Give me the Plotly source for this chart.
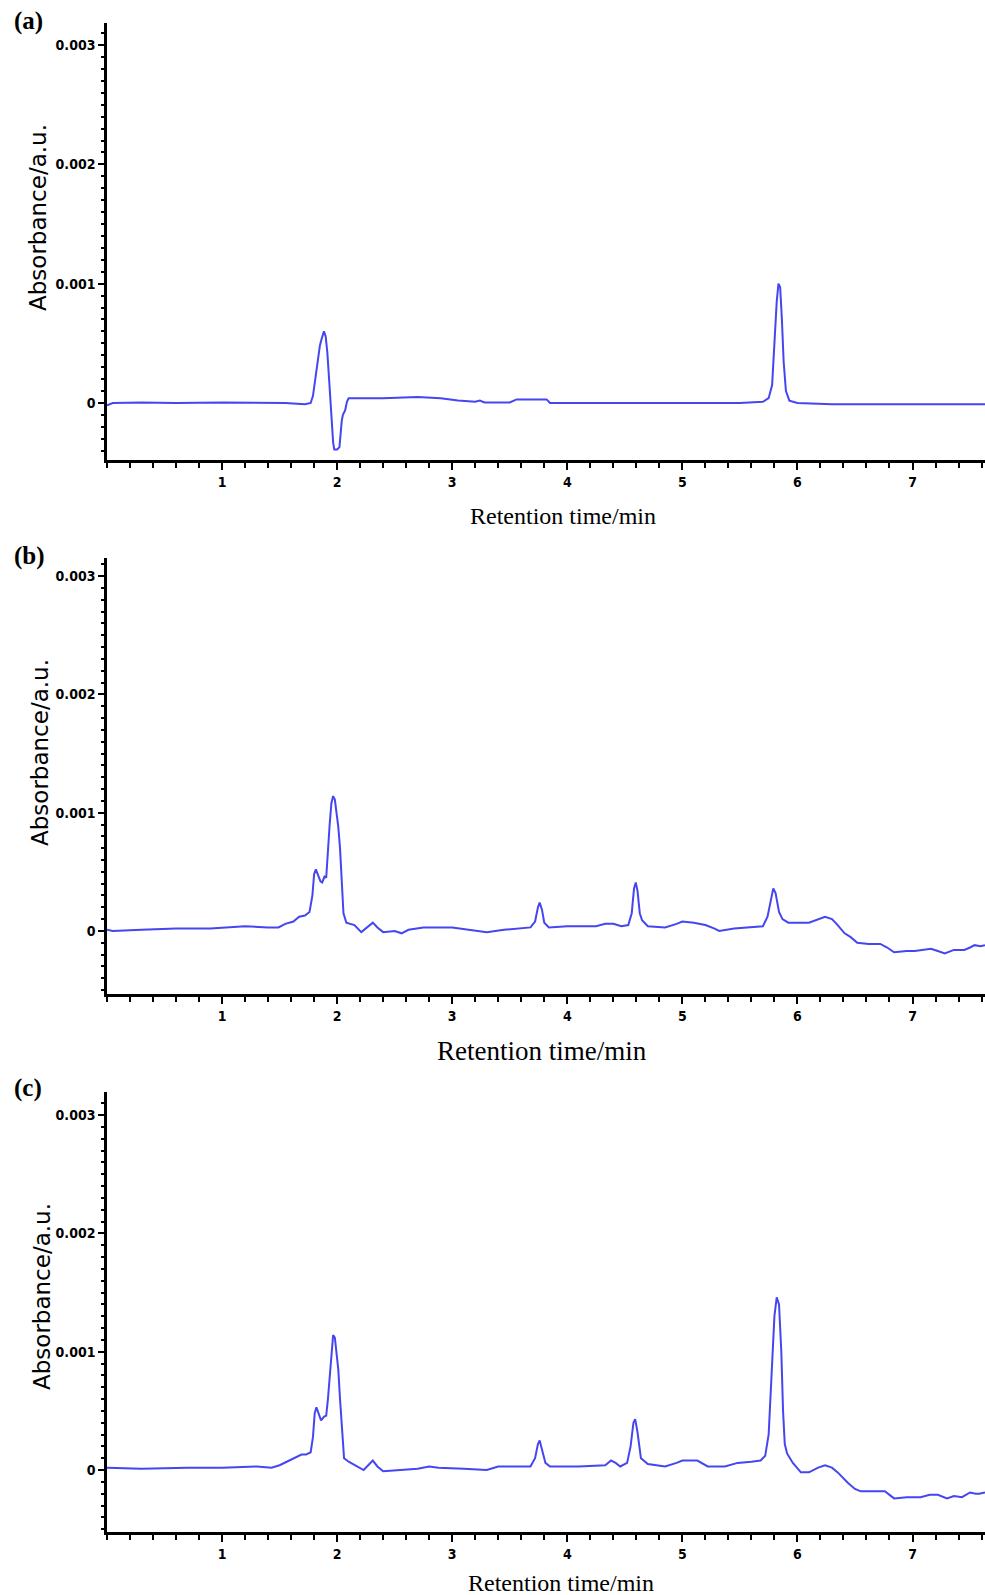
import plotly.graph_objects as go

# ---------------- data (retention time / min, absorbance / a.u.) ----------------
trace_a = [(0.00, -0.00002), (0.02, -0.00001), (0.05, 0.0), (0.30, 0.000005), (0.60, 0.0),
           (1.00, 0.000005), (1.30, 0.0), (1.55, 0.0), (1.72, -0.00001), (1.77, 0.0),
           (1.79, 0.00006), (1.81, 0.0002), (1.83, 0.00038), (1.85, 0.00048), (1.86, 0.00052),
           (1.875, 0.00058), (1.885, 0.0006), (1.90, 0.00056), (1.915, 0.00042), (1.93, 0.0002),
           (1.945, -0.00005), (1.955, -0.0002), (1.965, -0.00033), (1.975, -0.00039), (2.00, -0.00039),
           (2.02, -0.00037), (2.03, -0.00025), (2.04, -0.00015), (2.05, -0.0001), (2.07, -0.00006),
           (2.085, 0.00001), (2.10, 0.00004), (2.40, 0.00004), (2.70, 0.00005), (2.90, 0.00004),
           (3.05, 0.00002), (3.20, 0.00001), (3.24, 0.00002), (3.28, 0.000005), (3.50, 0.000005),
           (3.56, 0.00003), (3.70, 0.00003), (3.82, 0.00003), (3.85, 0.0), (4.50, 0.0),
           (5.00, 0.0), (5.50, 0.0), (5.70, 0.00001), (5.75, 0.00004), (5.78, 0.00015),
           (5.80, 0.00055), (5.82, 0.00085), (5.835, 0.001), (5.85, 0.00097), (5.865, 0.0007),
           (5.88, 0.00035), (5.90, 0.0001), (5.93, 0.00002), (6.00, 0.0), (6.30, -0.00001),
           (6.80, -0.00001), (7.20, -0.00001), (7.63, -0.00001)]

trace_b = [(0.00, 0.00001), (0.05, 0.0), (0.30, 0.00001), (0.60, 0.00002), (0.90, 0.00002),
           (1.20, 0.00004), (1.40, 0.00003), (1.49, 0.00003), (1.55, 0.00006), (1.62, 0.00008),
           (1.67, 0.00012), (1.72, 0.00013), (1.76, 0.00016), (1.785, 0.0003), (1.80, 0.00048),
           (1.815, 0.00052), (1.835, 0.00047), (1.855, 0.00042), (1.87, 0.00041), (1.89, 0.00046),
           (1.905, 0.00045), (1.92, 0.0007), (1.935, 0.0009), (1.95, 0.00108), (1.965, 0.00114),
           (1.98, 0.00111), (1.995, 0.001), (2.01, 0.00088), (2.025, 0.0007), (2.04, 0.00041),
           (2.055, 0.00015), (2.08, 0.00007), (2.15, 0.00005), (2.21, -0.00001), (2.26, 0.00003),
           (2.31, 0.00007), (2.35, 0.00003), (2.40, -0.00001), (2.50, 0.0), (2.56, -0.00002),
           (2.62, 0.00001), (2.75, 0.00003), (3.00, 0.00003), (3.15, 0.00001), (3.30, -0.00001),
           (3.45, 0.00001), (3.60, 0.00002), (3.68, 0.00003), (3.72, 0.00008), (3.745, 0.0002),
           (3.76, 0.00024), (3.78, 0.00018), (3.80, 0.00007), (3.84, 0.00003), (4.00, 0.00004),
           (4.25, 0.00004), (4.33, 0.00006), (4.40, 0.00006), (4.47, 0.00004), (4.53, 0.00005),
           (4.56, 0.00015), (4.58, 0.00036), (4.595, 0.00041), (4.61, 0.00034), (4.63, 0.00015),
           (4.65, 0.00009), (4.70, 0.00004), (4.85, 0.00003), (4.95, 0.00006), (5.00, 0.00008),
           (5.10, 0.00007), (5.20, 0.00005), (5.28, 0.00002), (5.32, 0.0), (5.45, 0.00002),
           (5.57, 0.00003), (5.70, 0.00004), (5.74, 0.00012), (5.77, 0.00028), (5.79, 0.00036),
           (5.81, 0.00032), (5.84, 0.00016), (5.87, 0.0001), (5.92, 0.00007), (6.10, 0.00007),
           (6.18, 0.0001), (6.24, 0.00012), (6.30, 0.0001), (6.34, 0.00006), (6.41, -0.00002),
           (6.46, -0.00005), (6.52, -0.0001), (6.62, -0.00011), (6.72, -0.00011), (6.78, -0.00014),
           (6.84, -0.00018), (6.95, -0.00017), (7.02, -0.00017), (7.10, -0.00016), (7.16, -0.00015),
           (7.22, -0.00017), (7.28, -0.00019), (7.36, -0.00016), (7.45, -0.00016), (7.50, -0.00014),
           (7.54, -0.00012), (7.59, -0.00013), (7.63, -0.00012)]

trace_c = [(0.00, 0.00002), (0.30, 0.00001), (0.70, 0.00002), (1.00, 0.00002), (1.30, 0.00003),
           (1.43, 0.00002), (1.50, 0.00004), (1.58, 0.00008), (1.65, 0.00011), (1.69, 0.00013),
           (1.73, 0.00013), (1.77, 0.00015), (1.79, 0.00028), (1.805, 0.00048), (1.82, 0.00053),
           (1.84, 0.00048), (1.86, 0.00042), (1.885, 0.00045), (1.905, 0.00046), (1.92, 0.0006),
           (1.935, 0.00078), (1.95, 0.00102), (1.965, 0.00114), (1.98, 0.00112), (1.995, 0.00098),
           (2.01, 0.00085), (2.025, 0.0006), (2.04, 0.00036), (2.06, 0.0001), (2.10, 0.00007),
           (2.16, 0.00004), (2.23, 0.0), (2.27, 0.00004), (2.31, 0.00008), (2.35, 0.00003),
           (2.40, -0.00001), (2.55, 0.0), (2.70, 0.00001), (2.80, 0.00003), (2.88, 0.00002),
           (3.10, 0.00001), (3.30, 0.0), (3.40, 0.00003), (3.68, 0.00003), (3.72, 0.0001),
           (3.745, 0.00022), (3.76, 0.00025), (3.78, 0.00018), (3.81, 0.00006), (3.85, 0.00003),
           (4.10, 0.00003), (4.33, 0.00004), (4.38, 0.00008), (4.42, 0.00006), (4.46, 0.00003),
           (4.52, 0.00006), (4.55, 0.0002), (4.575, 0.0004), (4.59, 0.00043), (4.61, 0.00032),
           (4.64, 0.0001), (4.70, 0.00005), (4.85, 0.00003), (4.95, 0.00006), (5.00, 0.00008),
           (5.13, 0.00008), (5.22, 0.00003), (5.37, 0.00003), (5.48, 0.00006), (5.60, 0.00007),
           (5.68, 0.00008), (5.72, 0.00012), (5.75, 0.0003), (5.775, 0.0008), (5.80, 0.0013),
           (5.82, 0.00146), (5.84, 0.0014), (5.86, 0.001), (5.875, 0.0005), (5.89, 0.00022),
           (5.91, 0.00014), (5.96, 0.00006), (6.03, -0.00002), (6.10, -0.00002), (6.18, 0.00002),
           (6.24, 0.00004), (6.30, 0.00002), (6.35, -0.00002), (6.44, -0.00011), (6.50, -0.00016),
           (6.55, -0.00018), (6.65, -0.00018), (6.76, -0.00018), (6.80, -0.00021), (6.84, -0.00024),
           (6.95, -0.00023), (7.07, -0.00023), (7.15, -0.00021), (7.22, -0.00021), (7.30, -0.00024),
           (7.36, -0.00022), (7.43, -0.00023), (7.50, -0.00019), (7.55, -0.0002), (7.58, -0.0002),
           (7.63, -0.00019)]

panel_labels = ["(a)", "(b)", "(c)"]
x_tick_vals = [1, 2, 3, 4, 5, 6, 7]
x_tick_text = ["1", "2", "3", "4", "5", "6", "7"]
y_tick_vals = [0, 0.001, 0.002, 0.003]
y_tick_text = ["0", "0.001", "0.002", "0.003"]
x_title = "Retention time/min"
y_title = "Absorbance/a.u."

# ---------------- layout geometry ----------------
W, H = 985, 1595
def fy(px):  # pixel from top -> paper fraction
    return 1 - px / H
def fx(px):
    return px / W

panels = [
    dict(data=trace_a, top=23, bottom=460, yr=[-0.000478, 0.003185],
         lab_y=21, ytitle=(38, 218), xtitle=(563, 516), xts=24),
    dict(data=trace_b, top=558, bottom=994, yr=[-0.000533, 0.003153],
         lab_y=556, ytitle=(40, 753), xtitle=(542, 1051), xts=27),
    dict(data=trace_c, top=1092, bottom=1532, yr=[-0.000524, 0.003195],
         lab_y=1088, ytitle=(42, 1297), xtitle=(561, 1583), xts=24),
]

LINE_COLOR = "rgb(70,70,240)"
TICK_FONT = dict(family="DejaVu Sans Condensed, Liberation Sans Narrow, Arial Narrow, sans-serif",
                 size=14, color="black", weight="bold")

fig = go.Figure()
annotations = []
layout = dict(width=W, height=H, margin=dict(l=0, r=0, t=0, b=0),
              paper_bgcolor="white", plot_bgcolor="white", showlegend=False)

for i, p in enumerate(panels):
    n = "" if i == 0 else str(i + 1)
    t = [d[0] for d in p["data"]]
    a = [d[1] for d in p["data"]]
    fig.add_trace(go.Scatter(x=t, y=a, mode="lines",
                             line=dict(color=LINE_COLOR, width=2),
                             xaxis="x" + n, yaxis="y" + n, hoverinfo="skip"))
    layout["xaxis" + n] = dict(
        domain=[fx(107), 1.0], range=[0, 7.63], anchor="y" + n,
        showline=True, linecolor="black", linewidth=2.5, showgrid=False, zeroline=False,
        ticks="outside", ticklen=7, tickwidth=2, tickcolor="black",
        tickvals=x_tick_vals, ticktext=x_tick_text, tickfont=TICK_FONT,
        minor=dict(dtick=0.2, tick0=0, ticks="outside", ticklen=5, tickwidth=1.5,
                   tickcolor="black", showgrid=False),
    )
    layout["yaxis" + n] = dict(
        domain=[fy(p["bottom"]), fy(p["top"])], range=p["yr"], anchor="x" + n,
        showline=True, linecolor="black", linewidth=2.5, showgrid=False, zeroline=False,
        ticks="outside", ticklen=6, tickwidth=2, tickcolor="black",
        tickvals=y_tick_vals, ticktext=y_tick_text, tickfont=TICK_FONT,
        minor=dict(dtick=0.0001, tick0=0, ticks="outside", ticklen=3, tickwidth=1.5,
                   tickcolor="black", showgrid=False),
    )
    annotations.append(dict(text="<b>" + panel_labels[i] + "</b>", xref="paper", yref="paper",
                            x=fx(12), y=fy(p["lab_y"]), xanchor="left", yanchor="middle",
                            showarrow=False,
                            font=dict(family="Liberation Serif, Times New Roman, serif",
                                      size=25, color="black")))
    annotations.append(dict(text=y_title, xref="paper", yref="paper",
                            x=fx(p["ytitle"][0]), y=fy(p["ytitle"][1]),
                            xanchor="center", yanchor="middle", textangle=-90, showarrow=False,
                            font=dict(family="DejaVu Sans, sans-serif", size=23, color="black")))
    annotations.append(dict(text=x_title, xref="paper", yref="paper",
                            x=fx(p["xtitle"][0]), y=fy(p["xtitle"][1]),
                            xanchor="center", yanchor="middle", showarrow=False,
                            font=dict(family="Liberation Serif, Times New Roman, serif",
                                      size=p["xts"], color="black")))

layout["annotations"] = annotations
fig.update_layout(**layout)
fig.write_html("out.html")
